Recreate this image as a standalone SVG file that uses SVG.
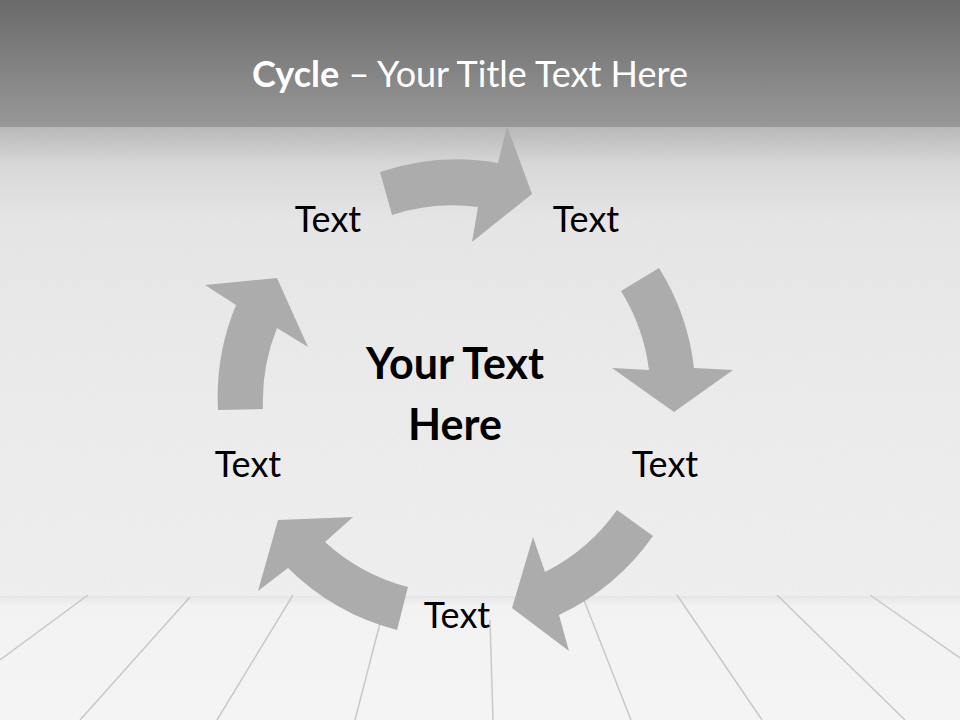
<svg xmlns="http://www.w3.org/2000/svg" width="960" height="720" viewBox="0 0 960 720">
  <style>
    .arrow { fill: #acacac; }
    .lbl { font-family: Lato, "Liberation Sans", sans-serif; font-size: 36px; fill: #000; text-anchor: middle; }
    .center { font-family: Lato, "Liberation Sans", sans-serif; font-size: 43px; font-weight: bold; fill: #000; text-anchor: middle; }
    .plank { stroke: #c8c8c8; stroke-width: 1.5; fill: none; }
  </style>
  <defs>
    <linearGradient id="hdr" x1="0" y1="0" x2="0" y2="1">
      <stop offset="0" stop-color="#6a6a6a"/>
      <stop offset="1" stop-color="#989898"/>
    </linearGradient>
    <linearGradient id="wall" x1="0" y1="0" x2="0" y2="1">
      <stop offset="0" stop-color="#b8b8b8"/>
      <stop offset="0.08" stop-color="#d8d8d8"/>
      <stop offset="0.2" stop-color="#e6e6e6"/>
      <stop offset="0.6" stop-color="#ececec"/>
      <stop offset="1" stop-color="#efefef"/>
    </linearGradient>
    <linearGradient id="floor" x1="0" y1="0" x2="0" y2="1">
      <stop offset="0" stop-color="#e6e6e6"/>
      <stop offset="0.08" stop-color="#f2f2f2"/>
      <stop offset="1" stop-color="#f4f4f4"/>
    </linearGradient>
    <filter id="grain" x="0" y="0" width="100%" height="100%">
      <feTurbulence type="fractalNoise" baseFrequency="0.9" numOctaves="2" seed="3" result="n"/>
      <feColorMatrix type="matrix" values="0 0 0 0 0.5  0 0 0 0 0.5  0 0 0 0 0.5  0 0 0 -1.2 0.75"/>
    </filter>
  </defs>

  <g id="background">
    <rect x="0" y="0" width="960" height="127" fill="url(#hdr)"/>
    <rect x="0" y="127" width="960" height="469" fill="url(#wall)"/>
    <rect x="0" y="127" width="960" height="469" filter="url(#grain)" opacity="0.14"/>
    <rect x="0" y="596" width="960" height="124" fill="url(#floor)"/>
    <g class="plank">
      <path d="M88,595 L0,660"/>
      <path d="M190,597 L80,720"/>
      <path d="M293,595 L217,720"/>
      <path d="M386,600 L355,720"/>
      <path d="M490,620 L493,720"/>
      <path d="M582,595 L631,720"/>
      <path d="M677,595 L762,720"/>
      <path d="M777,595 L905,720"/>
      <path d="M870,595 L960,658"/>
    </g>
  </g>

  <g id="title">
    <text x="470" y="87" font-family="Lato, 'Liberation Sans', sans-serif" font-size="36" fill="#ffffff" text-anchor="middle"><tspan font-weight="bold">Cycle</tspan> – Your Title Text Here</text>
  </g>

  <g id="connectors">
    <path class="arrow" d="M392,215 L380,172 A240,240 0 0 1 498,163 L507,126 L532,194 L472,242 L478,207 A196,196 0 0 0 392,215 Z"/>
    <path class="arrow" d="M621,291 L659,268 A240,240 0 0 1 694,368 L733,370 L674,412 L612,368 L649,370 A196,196 0 0 0 621,291 Z"/>
    <path class="arrow" d="M617,510 L653,536 A240,240 0 0 1 559,615 L569,651 L512,608 L533,537 L545,572 A196,196 0 0 0 617,510 Z"/>
    <path class="arrow" d="M408,587 L397,630 A240,240 0 0 1 288,568 L258,591 L278,520 L353,517 L325,542 A196,196 0 0 0 408,587 Z"/>
    <path class="arrow" d="M263,409 L218,410 A240,240 0 0 1 236,305 L205,285 L277,278 L308,347 L277,328 A196,196 0 0 0 263,409 Z"/>
  </g>

  <g id="center-node">
    <text class="center" x="455" y="379">Your Text</text>
    <text class="center" x="455" y="440">Here</text>
  </g>
  <g id="node-top-left"><text class="lbl" x="328" y="232">Text</text></g>
  <g id="node-top-right"><text class="lbl" x="586" y="232">Text</text></g>
  <g id="node-right"><text class="lbl" x="665" y="477">Text</text></g>
  <g id="node-bottom"><text class="lbl" x="457" y="628">Text</text></g>
  <g id="node-left"><text class="lbl" x="248" y="477">Text</text></g>
</svg>
